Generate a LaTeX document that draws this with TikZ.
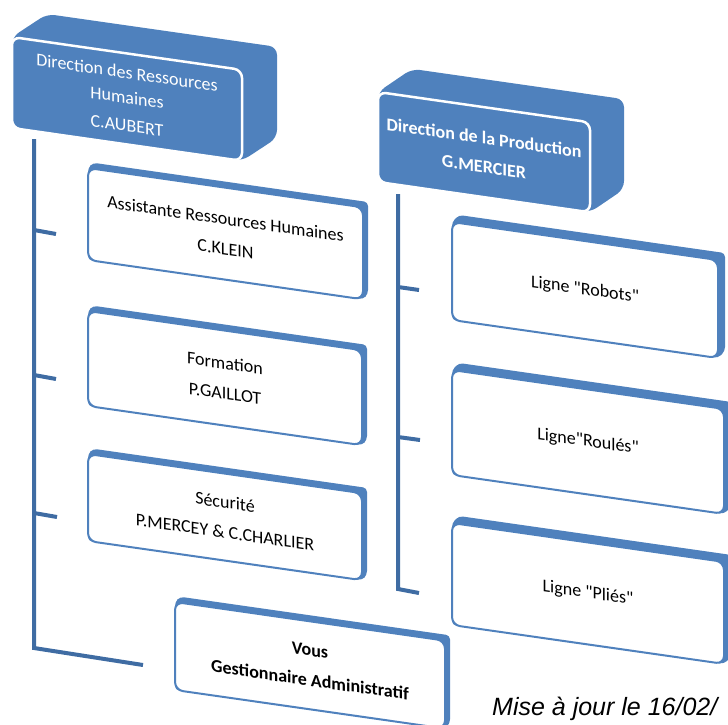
\documentclass[tikz,border=0pt]{standalone}
\usepackage{fontspec}
\newfontfamily\carlito{Carlito}
\newfontfamily\majfont{Liberation Sans}
\definecolor{boxblue}{HTML}{4F81BD}
\definecolor{linkblue}{HTML}{3F6CA3}
\tikzset{
  darkext/.style={fill=boxblue, rounded corners=8pt},
  lightext/.style={fill=boxblue, rounded corners=4pt},
  darkface/.style={fill=boxblue, draw=white, line width=2.5pt, rounded corners=8pt},
  lightface/.style={fill=white, draw=boxblue, line width=2pt, rounded corners=8pt},
  darktext/.style={transform shape, align=center, text=white, font=\carlito\fontsize{18}{25}\selectfont, inner sep=0pt},
  lighttext/.style={transform shape, align=center, text=black, font=\carlito\fontsize{18}{25}\selectfont, inner sep=0pt},
  link/.style={draw=linkblue, line width=4pt},
}
% #1 X, #2 Y, #3 W, #4 H, #5 dx, #6 dy, #7 kind (dark/light), #8 name, #9 text
\newcommand\OrgBox[9]{%
  \begin{scope}[cm={1,-0.143,0,1,(#1,#2)}]
    \fill[#7ext] (0,0) -- (#5,#6) -- ({#3+#5},#6) -- ({#3+#5},{#4+#6}) -- (#3,#4) -- (0,#4) -- cycle;
    \draw[#7face] (0,0) rectangle (#3,#4);
    \node[#7text] (#8) at ({#3/2},{#4/2}) {#9};
  \end{scope}}
\begin{document}
\begin{tikzpicture}[x=1pt,y=-1pt]
\useasboundingbox (0,0) rectangle (728,724);

\OrgBox{12}{37}{230}{91}{35}{-28}{dark}{drh}{Direction des Ressources\\Humaines\\[3pt]C.AUBERT}
\OrgBox{378}{92}{212}{90}{34}{-28}{dark}{prod}{\bfseries Direction de la Production\\[4pt]\bfseries G.MERCIER}

\OrgBox{88}{168}{275}{92}{5}{-6}{light}{arh}{Assistante Ressources Humaines\\[5pt]C.KLEIN}
\OrgBox{88}{311}{274}{95}{5}{-6}{light}{form}{Formation\\[5pt]P.GAILLOT}
\OrgBox{88}{454}{274}{87}{5}{-6}{light}{secu}{Sécurité\\[5pt]P.MERCEY \& C.CHARLIER}
\OrgBox{175}{602}{270}{88}{5}{-6}{light}{vous}{\bfseries Vous\\[5pt]\bfseries Gestionnaire Administratif}

\OrgBox{452}{222}{266}{98}{7}{-8}{light}{robots}{Ligne "Robots"}
\OrgBox{452}{370}{272}{105}{7}{-8}{light}{roules}{Ligne"Roulés"}
\OrgBox{452}{523}{272}{102}{7}{-8}{light}{plies}{Ligne "Pliés"}

% left trunk
\coordinate (L0) at (34,139);
\coordinate (L1) at (34,230); \coordinate (L1e) at (56,234);
\coordinate (L2) at (34,375); \coordinate (L2e) at (56,379);
\coordinate (L3) at (34,513); \coordinate (L3e) at (57,517);
\coordinate (L4) at (34,648); \coordinate (L4e) at (143,665);
\draw[link] (L0) -- (L4) -- (L4e);
\draw[link] (L1) -- (L1e);
\draw[link] (L2) -- (L2e);
\draw[link] (L3) -- (L3e);

% right trunk
\coordinate (R0) at (398,194);
\coordinate (R1) at (398,287); \coordinate (R1e) at (419,290);
\coordinate (R2) at (398,437); \coordinate (R2e) at (420,440);
\coordinate (R3) at (398,589); \coordinate (R3e) at (419,593);
\draw[link] (R0) -- (R3) -- (R3e);
\draw[link] (R1) -- (R1e);
\draw[link] (R2) -- (R2e);

\node[anchor=base west, inner sep=0pt, font=\majfont\itshape\fontsize{25}{30}\selectfont] (maj) at (492,715) {Mise à jour le 16/02/};
\end{tikzpicture}
\end{document}
